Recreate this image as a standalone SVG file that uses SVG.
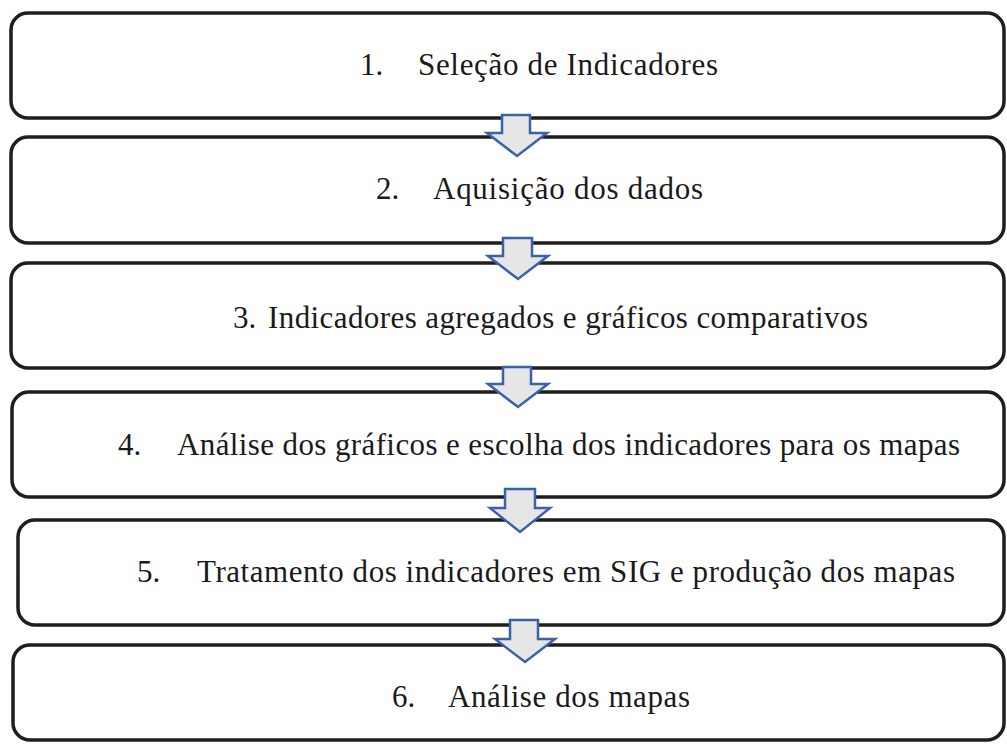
<svg xmlns="http://www.w3.org/2000/svg" width="1007" height="745" viewBox="0 0 1007 745">
<style>
.box{fill:#ffffff;stroke:#1e1e1e;stroke-width:3.5}
.arr{fill:#e6e6e6;stroke:#3a62a8;stroke-width:2.5;stroke-linejoin:miter}
</style>
<rect width="1007" height="745" fill="#ffffff"/>
<g id="n1"><rect class="box" x="11" y="13" width="993" height="105" rx="17"/>
<text font-family="Liberation Serif" font-size="31" fill="#1a1a1a" x="360" y="75">1.</text>
<text font-family="Liberation Serif" font-size="31" fill="#1a1a1a" x="418" y="75" textLength="300">Sele&#231;&#227;o de Indicadores</text></g>
<g id="n2"><rect class="box" x="11" y="137" width="993" height="106" rx="17"/>
<text font-family="Liberation Serif" font-size="31" fill="#1a1a1a" x="376" y="199">2.</text>
<text font-family="Liberation Serif" font-size="31" fill="#1a1a1a" x="433" y="199" textLength="270">Aquisi&#231;&#227;o dos dados</text></g>
<g id="n3"><rect class="box" x="11" y="263" width="993" height="105" rx="17"/>
<text font-family="Liberation Serif" font-size="31" fill="#1a1a1a" x="233" y="328">3.</text>
<text font-family="Liberation Serif" font-size="31" fill="#1a1a1a" x="268" y="328" textLength="600">Indicadores agregados e gr&#225;ficos comparativos</text></g>
<g id="n4"><rect class="box" x="12" y="392" width="992" height="105" rx="17"/>
<text font-family="Liberation Serif" font-size="31" fill="#1a1a1a" x="118" y="455">4.</text>
<text font-family="Liberation Serif" font-size="31" fill="#1a1a1a" x="177" y="455" textLength="783">An&#225;lise dos gr&#225;ficos e escolha dos indicadores para os mapas</text></g>
<g id="n5"><rect class="box" x="18" y="520" width="986" height="105" rx="17"/>
<text font-family="Liberation Serif" font-size="31" fill="#1a1a1a" x="137" y="582">5.</text>
<text font-family="Liberation Serif" font-size="31" fill="#1a1a1a" x="197" y="582" textLength="758">Tratamento dos indicadores em SIG e produ&#231;&#227;o dos mapas</text></g>
<g id="n6"><rect class="box" x="13" y="645" width="991" height="95" rx="17"/>
<text font-family="Liberation Serif" font-size="31" fill="#1a1a1a" x="392" y="707">6.</text>
<text font-family="Liberation Serif" font-size="31" fill="#1a1a1a" x="448" y="707" textLength="242">An&#225;lise dos mapas</text></g>
<g id="connectors">
<path class="arr" d="M502 115 H530 V133 H547 L517 156 L487 133 H502 Z"/>
<path class="arr" d="M503 238 H532 V256 H548 L518 279 L488 256 H503 Z"/>
<path class="arr" d="M503 367 H531 V384 H548 L518 407 L488 384 H503 Z"/>
<path class="arr" d="M505 489 H535 V508 H550 L520 532 L490 508 H505 Z"/>
<path class="arr" d="M510 620 H538 V639 H555 L525 662 L495 639 H510 Z"/>
</g>
</svg>
